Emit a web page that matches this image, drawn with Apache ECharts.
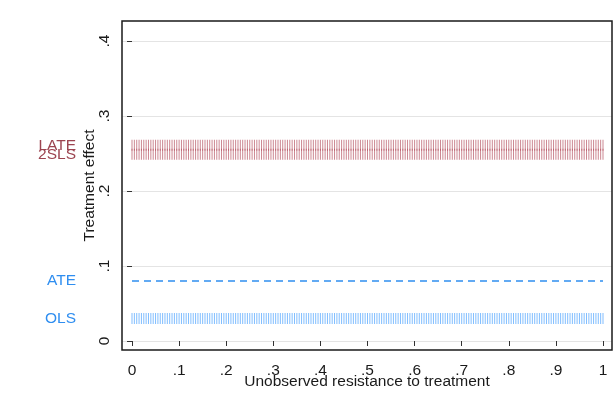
<!DOCTYPE html>
<html>
<head>
<meta charset="utf-8">
<script src="https://cdn.jsdelivr.net/npm/echarts@6/dist/echarts.min.js"></script>
<style>
  html, body { margin: 0; padding: 0; background: #ffffff; }
  #chart { width: 616px; height: 394px; }
</style>
</head>
<body>
<div id="chart"></div>
<script>
// Evaluation grid over the unobserved resistance u (0 to 1 in steps of .005)
const uGrid = [
  0, .005, .01, .015, .02, .025, .03, .035, .04, .045,
  .05, .055, .06, .065, .07, .075, .08, .085, .09, .095,
  .1, .105, .11, .115, .12, .125, .13, .135, .14, .145,
  .15, .155, .16, .165, .17, .175, .18, .185, .19, .195,
  .2, .205, .21, .215, .22, .225, .23, .235, .24, .245,
  .25, .255, .26, .265, .27, .275, .28, .285, .29, .295,
  .3, .305, .31, .315, .32, .325, .33, .335, .34, .345,
  .35, .355, .36, .365, .37, .375, .38, .385, .39, .395,
  .4, .405, .41, .415, .42, .425, .43, .435, .44, .445,
  .45, .455, .46, .465, .47, .475, .48, .485, .49, .495,
  .5, .505, .51, .515, .52, .525, .53, .535, .54, .545,
  .55, .555, .56, .565, .57, .575, .58, .585, .59, .595,
  .6, .605, .61, .615, .62, .625, .63, .635, .64, .645,
  .65, .655, .66, .665, .67, .675, .68, .685, .69, .695,
  .7, .705, .71, .715, .72, .725, .73, .735, .74, .745,
  .75, .755, .76, .765, .77, .775, .78, .785, .79, .795,
  .8, .805, .81, .815, .82, .825, .83, .835, .84, .845,
  .85, .855, .86, .865, .87, .875, .88, .885, .89, .895,
  .9, .905, .91, .915, .92, .925, .93, .935, .94, .945,
  .95, .955, .96, .965, .97, .975, .98, .985, .99, .995,
  1
];

// Estimated treatment effects
const effectNames  = ['LATE', '2SLS', 'ATE', 'OLS'];
const effectValues = [0.261, 0.249, 0.080, 0.030];
const effectColors = ['#9c4450', '#9c4450', '#2f8ef0', '#2f8ef0'];

// Captions are split over two label columns so the close LATE/2SLS pair both show
const captionSetA = [effectValues[0], effectValues[2], effectValues[3]];
const captionSetB = [effectValues[1]];

// Axis ticks and their labels
const xTicks      = [0, .1, .2, .3, .4, .5, .6, .7, .8, .9, 1];
const xTickLabels = ['0', '.1', '.2', '.3', '.4', '.5', '.6', '.7', '.8', '.9', '1'];
const yTickLabels = ['0', '.1', '.2', '.3', '.4'];
const xTitle = 'Unobserved resistance to treatment';
const yTitle = 'Treatment effect';

const FONT = "'Liberation Sans', Arial, sans-serif";
const FS = 15.5;
const ink = '#1a1a1a';

const chart = echarts.init(document.getElementById('chart'), null, { renderer: 'canvas' });

const constantAt = v => uGrid.map(u => [u, v]);

const richStyles = {};
effectNames.forEach((n, i) => {
  richStyles['e' + i] = { color: effectColors[i], fontSize: FS, fontFamily: FONT };
});

const captionAxis = values => ({
  type: 'value', gridIndex: 0, position: 'left', offset: 46,
  min: 0, max: 0.4,
  axisLine: { show: false }, axisTick: { show: false }, splitLine: { show: false },
  axisLabel: {
    show: true, margin: 0, fontSize: FS, fontFamily: FONT, hideOverlap: false,
    customValues: values,
    formatter: v => {
      const i = effectValues.findIndex(e => Math.abs(e - v) < 1e-9);
      return '{e' + i + '|' + effectNames[i] + '}';
    },
    rich: richStyles
  }
});

chart.setOption({
  animation: false,
  backgroundColor: '#ffffff',
  // x-axis title, centred under the plot frame
  title: {
    text: xTitle, left: 367, top: 374, textAlign: 'center', padding: 0,
    textStyle: { fontSize: FS, fontWeight: 'normal', fontFamily: FONT, color: ink }
  },
  grid: [
    // data area (x axis padded inside the plot frame)
    { left: 122, right: 4, top: 41, bottom: 53, containLabel: false },
    // plot frame
    { left: 122, right: 4, top: 21, bottom: 44, show: true, borderColor: '#1a1a1a', borderWidth: 1.5, backgroundColor: 'transparent', z: 5 }
  ],
  xAxis: [
    {
      type: 'value', gridIndex: 0,
      min: -10 / 471, max: 1 + 9 / 471,
      offset: 9,
      axisLine: { show: false },
      axisTick: { show: true, length: 5, lineStyle: { color: '#333', width: 1 }, customValues: xTicks },
      axisLabel: {
        show: true, margin: 13, fontSize: FS, fontFamily: FONT, color: ink,
        customValues: xTicks,
        formatter: v => xTickLabels[xTicks.findIndex(t => Math.abs(t - v) < 1e-9)]
      },
      splitLine: { show: false }
    },
    {
      type: 'value', gridIndex: 1, min: 0, max: 1, show: false
    }
  ],
  yAxis: [
    {
      type: 'value', gridIndex: 0,
      min: 0, max: 0.4, interval: 0.1,
      axisLine: { show: false },
      axisTick: { show: true, length: 5, lineStyle: { color: '#333', width: 1 } },
      axisLabel: {
        show: true, rotate: 90, margin: 9, fontSize: FS, fontFamily: FONT, color: ink,
        formatter: v => yTickLabels[Math.round(v * 10)]
      },
      splitLine: { show: true, lineStyle: { color: '#e4e4e4', width: 1 } }
    },
    captionAxis(captionSetA),
    captionAxis(captionSetB),
    {
      type: 'value', gridIndex: 1, min: 0, max: 1,
      axisLine: { show: false }, axisTick: { show: false }, axisLabel: { show: false }, splitLine: { show: false },
      name: yTitle,
      nameLocation: 'middle', nameGap: 24, nameRotate: 90,
      nameTextStyle: { fontSize: FS, fontFamily: FONT, color: ink }
    }
  ],
  series: [
    {
      name: effectNames[0], type: 'scatter', xAxisIndex: 0, yAxisIndex: 0,
      symbol: 'rect', symbolSize: [1, 11], silent: true,
      itemStyle: { color: '#b04858', opacity: 0.65 },
      data: constantAt(effectValues[0])
    },
    {
      name: effectNames[1], type: 'scatter', xAxisIndex: 0, yAxisIndex: 0,
      symbol: 'rect', symbolSize: [1, 11], silent: true,
      itemStyle: { color: '#b04858', opacity: 0.65 },
      data: constantAt(effectValues[1])
    },
    {
      name: effectNames[2], type: 'line', xAxisIndex: 0, yAxisIndex: 0,
      showSymbol: false, silent: true,
      lineStyle: { color: '#2f8ef0', width: 1.3, type: [7, 5] },
      data: [[0, effectValues[2]], [1, effectValues[2]]]
    },
    {
      name: effectNames[3], type: 'scatter', xAxisIndex: 0, yAxisIndex: 0,
      symbol: 'rect', symbolSize: [1, 11], silent: true,
      itemStyle: { color: '#3d9bff', opacity: 0.65 },
      data: constantAt(effectValues[3])
    }
  ]
});
</script>
</body>
</html>
